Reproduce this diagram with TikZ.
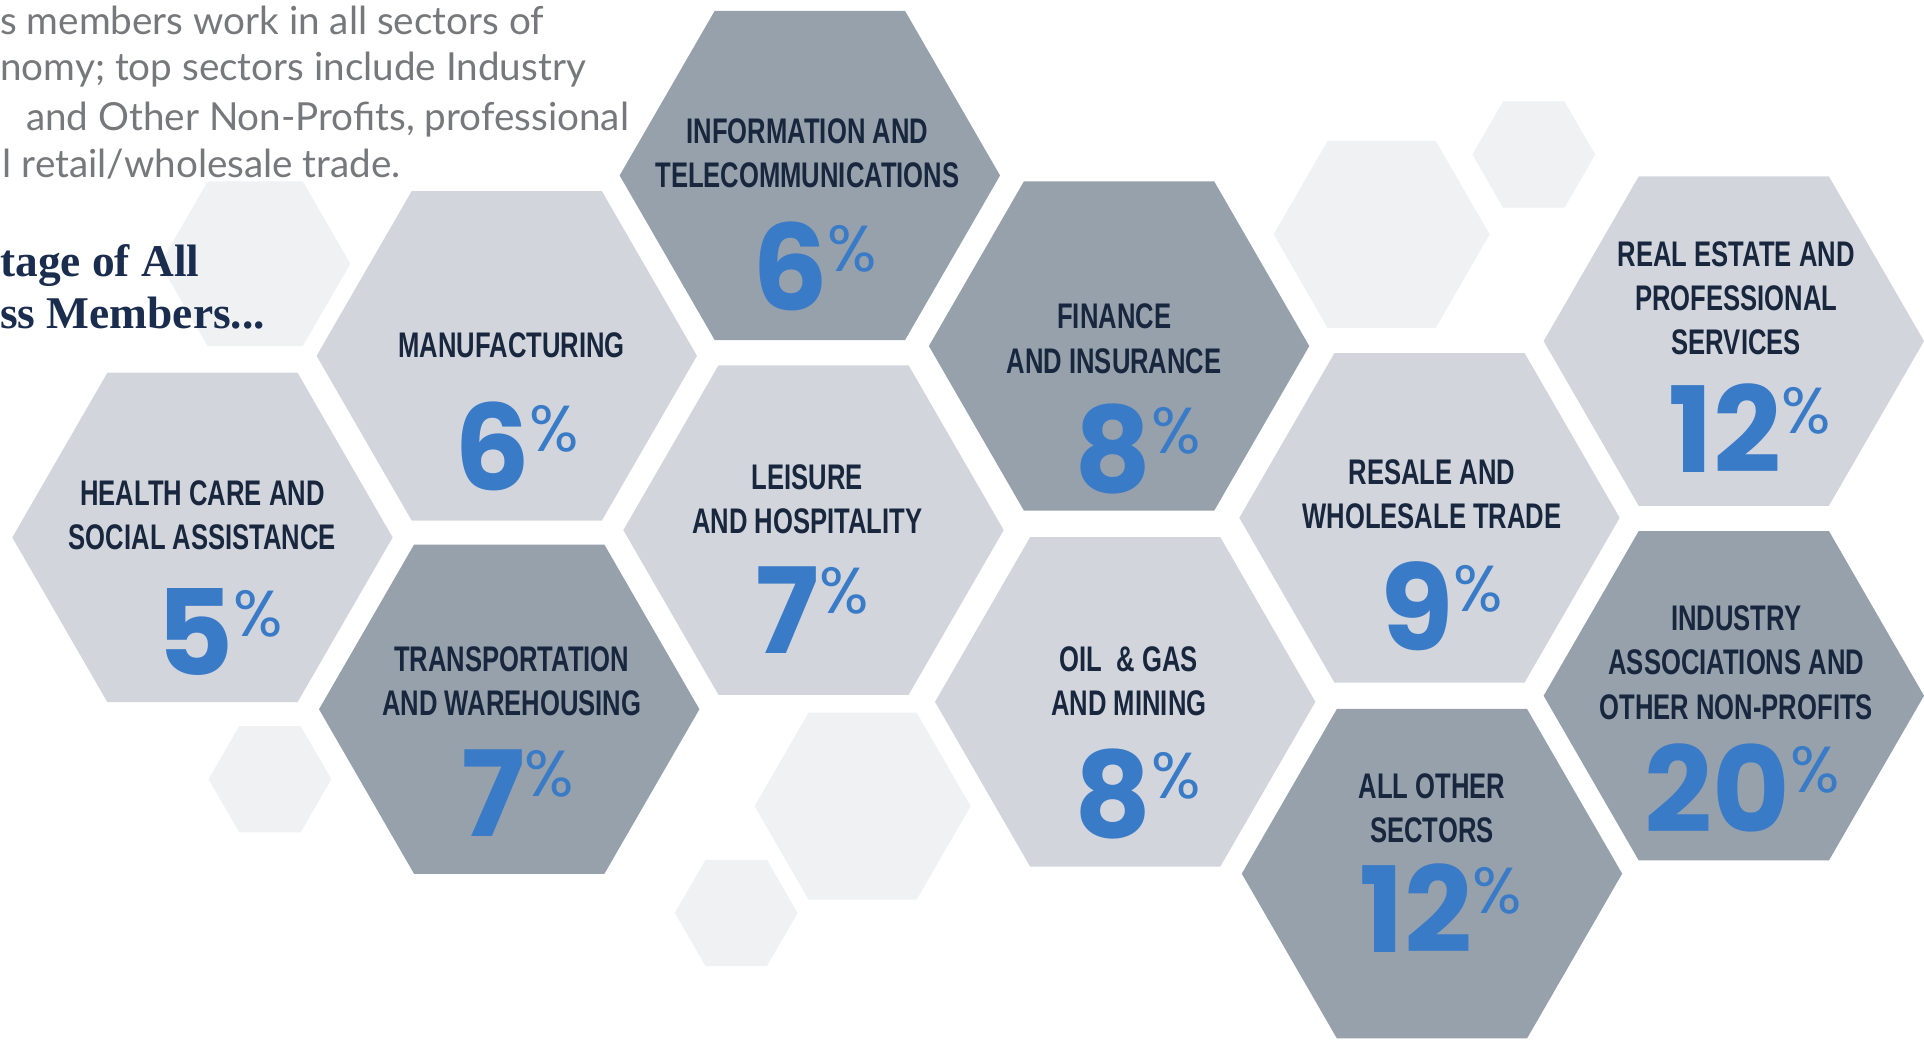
\documentclass[tikz,border=0pt]{standalone}
\usepackage{fontspec}
\usetikzlibrary{shapes.geometric}
\newfontfamily\lblfont[FakeStretch=0.72]{Liberation Sans}
\newfontfamily\numfont{Poppins}
\newfontfamily\bodyfont{Lato}
\newfontfamily\headfont{Liberation Serif}
\definecolor{hexlight}{RGB}{210,214,220}
\definecolor{hexdark}{RGB}{150,161,172}
\definecolor{hexfaint}{RGB}{239,241,243}
\definecolor{numblue}{RGB}{58,123,200}
\definecolor{lblnavy}{RGB}{24,39,62}
\definecolor{bodygray}{RGB}{118,120,124}
\definecolor{headnavy}{RGB}{27,45,78}
\newcommand{\pc}[1]{{\numfont\bfseries\fontsize{97}{97}\selectfont #1}\kern0pt{\numfont\fontsize{53}{53}\selectfont\raisebox{32pt}{\%}}}
\tikzset{
  hex/.style={regular polygon, regular polygon sides=6, minimum size=310pt, inner sep=0pt, draw=none},
  faint/.style={regular polygon, regular polygon sides=6, inner sep=0pt, draw=none, fill=hexfaint},
  lbl/.style={align=center, inner sep=0pt, text=lblnavy, font=\lblfont\bfseries\fontsize{29}{36}\selectfont},
  num/.style={inner sep=0pt, text=numblue},
  body/.style={anchor=base west, inner sep=0pt, text=bodygray, font=\bodyfont\fontsize{31.5}{39}\selectfont},
  head/.style={anchor=base west, inner sep=0pt, text=headnavy, font=\headfont\bfseries\fontsize{37}{43}\selectfont}
}

\begin{document}
\begin{tikzpicture}[x=1pt,y=-1pt]
            \useasboundingbox (0,0) rectangle (1568,848);
            \fill [white] (0,0) rectangle (1568,848);
            \clip (0,0) rectangle (1568,848);
            % faint background cells
            \node [faint, minimum size=155pt] (F1) at (208,215) {};
            \node [faint, minimum size=176pt] (F2) at (1126,191) {};
            \node [faint, minimum size=100pt] (F3) at (1250,126) {};
            \node [faint, minimum size=100pt] (F4) at (220,635) {};
            \node [faint, minimum size=176pt] (F5) at (703,657) {};
            \node [faint, minimum size=100pt] (F6) at (600,744) {};
            % intro text
            \node [body] (P1) at (0,28) {s members work in all sectors of};
            \node [body] (P2) at (0,66) {nomy; top sectors include Industry};
            \node [body] (P3) at (21,106) {and Other Non-Profits, professional};
            \node [body] (P4) at (2,145) {l retail/wholesale trade.};
            \node [head] (H1) at (0,225) {tage of All};
            \node [head] (H2) at (0,268) {ss Members...};
            % sector cells
            \node [hex, fill=hexlight] (HC) at (165,438) {};
            \node [hex, fill=hexlight] (MF) at (413,290) {};
            \node [hex, fill=hexdark] (TW) at (415,578) {};
            \node [hex, fill=hexdark] (IT) at (660,143) {};
            \node [hex, fill=hexlight] (LH) at (663,432) {};
            \node [hex, fill=hexdark] (FI) at (912,282) {};
            \node [hex, fill=hexlight] (OG) at (917,572) {};
            \node [hex, fill=hexlight] (RW) at (1165,422) {};
            \node [hex, fill=hexdark] (AO) at (1167,712) {};
            \node [hex, fill=hexlight] (RE) at (1413,278) {};
            \node [hex, fill=hexdark] (IA) at (1413,567) {};
            % labels
            \node [lbl] (HCt) at (165,420) {HEALTH CARE AND\\SOCIAL ASSISTANCE};
            \node [lbl] (MFt) at (417,281) {MANUFACTURING};
            \node [lbl] (TWt) at (417,555) {TRANSPORTATION\\AND WAREHOUSING};
            \node [lbl] (ITt) at (658,125) {INFORMATION AND\\TELECOMMUNICATIONS};
            \node [lbl] (LHt) at (658,407) {LEISURE\\AND HOSPITALITY};
            \node [lbl] (FIt) at (908,276) {FINANCE\\AND INSURANCE};
            \node [lbl] (OGt) at (920,555) {OIL\ \ \& GAS\\AND MINING};
            \node [lbl] (RWt) at (1167,403) {RESALE AND\\WHOLESALE TRADE};
            \node [lbl] (AOt) at (1167,659) {ALL OTHER\\SECTORS};
            \node [lbl] (REt) at (1415,243) {REAL ESTATE AND\\PROFESSIONAL\\SERVICES};
            \node [lbl] (IAt) at (1415,540) {INDUSTRY\\ASSOCIATIONS AND\\OTHER NON-PROFITS};
            % percentages
            \node [num] (HCn) at (179,515) {\pc{5}};
            \node [num] (MFn) at (421,364) {\pc{6}};
            \node [num] (TWn) at (422,646) {\pc{7}};
            \node [num] (ITn) at (664,217) {\pc{6}};
            \node [num] (LHn) at (662,497) {\pc{7}};
            \node [num] (FIn) at (927,366) {\pc{8}};
            \node [num] (OGn) at (927,647) {\pc{8}};
            \node [num] (RWn) at (1175,494) {\pc{9}};
            \node [num] (AOn) at (1174,740) {\pc{12}};
            \node [num] (REn) at (1426,349) {\pc{12}};
            \node [num] (IAn) at (1420,642) {\pc{20}};
        \end{tikzpicture}
\end{document}
